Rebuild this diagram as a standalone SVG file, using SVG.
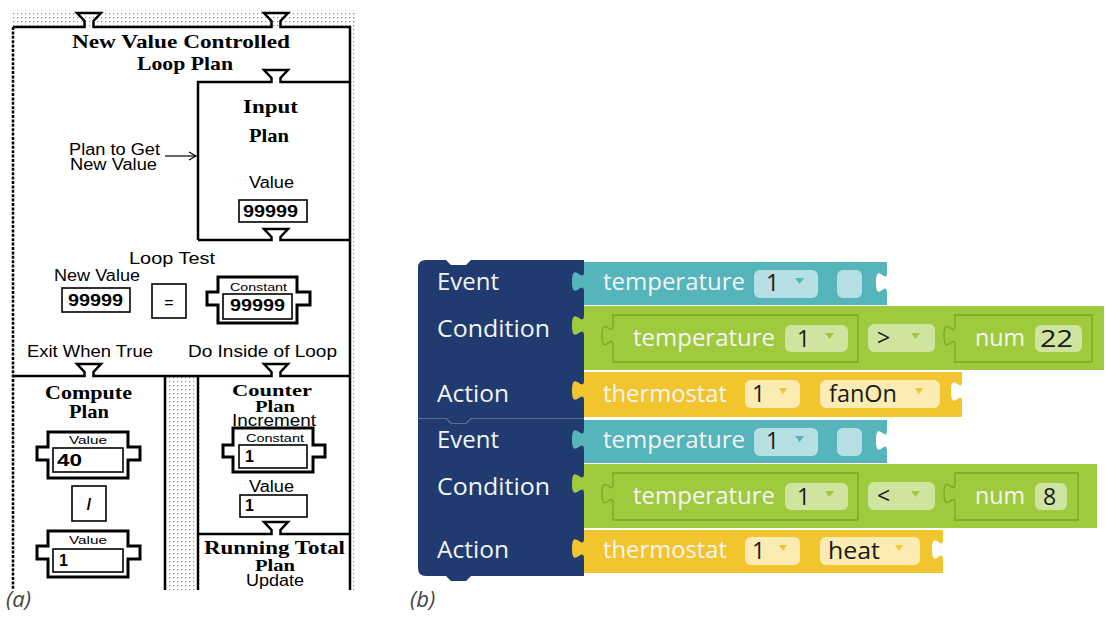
<svg xmlns="http://www.w3.org/2000/svg" width="1106" height="621" viewBox="0 0 1106 621">
  <style>
    .ln { fill: none; stroke: #000; stroke-width: 2.5; stroke-linejoin: miter; }
    .box { fill: #fff; stroke: #000; stroke-width: 1.6; }
    .cart { fill: #fff; stroke: #000; stroke-width: 3; }
    .ttl { font-family: "Liberation Serif", serif; font-weight: bold; font-size: 19px; fill: #000; }
    .ttlS { font-family: "Liberation Serif", serif; font-weight: bold; font-size: 17px; fill: #000; }
    .sans { font-family: "Liberation Sans", sans-serif; font-size: 16px; fill: #000; }
    .small { font-family: "Liberation Sans", sans-serif; font-size: 11.5px; fill: #000; }
    .num { font-family: "Liberation Sans", sans-serif; font-weight: bold; font-size: 16px; fill: #000; }
    .lbl { font-family: "Open Sans", "Noto Sans", sans-serif; font-size: 23px; fill: #f4f4f4; }
    .fld { font-family: "Open Sans", "Noto Sans", sans-serif; font-size: 23px; fill: #1a1a1a; }
    .cap { font-family: "Open Sans", "Noto Sans", sans-serif; font-style: italic; font-size: 22px; fill: #444; }
    .navy { fill: #1f3b70; }
    .teal { fill: #55b5bb; }
    .green { fill: #9fca3d; }
    .yellow { fill: #f2c52f; }
    .tealF { fill: #b5dfe2; }
    .greenF { fill: #cfe59f; }
    .yellowF { fill: #fcebb2; }
    .inner { fill: #9fca3d; stroke: #7ca42b; stroke-width: 1.3; }
  </style>
  <defs>
    <pattern id="dots" width="4" height="4" patternUnits="userSpaceOnUse">
      <rect x="1" y="1" width="1.2" height="1.2" fill="#858585"/>
    </pattern>
    <marker id="openArrow" markerWidth="10" markerHeight="10" refX="8" refY="5" orient="auto" markerUnits="userSpaceOnUse">
      <polyline points="1,1 8,5 1,9" fill="none" stroke="#000" stroke-width="1.2"/>
    </marker>
  </defs>

  <rect width="1106" height="621" fill="#fff"/>

  <!-- ============ (a) plan notation ============ -->
  <g id="plan-background">
    <rect x="10" y="10" width="347" height="17" fill="url(#dots)"/>
    <rect x="351" y="10" width="6" height="580" fill="url(#dots)"/>
    <rect x="166" y="377" width="31" height="213" fill="url(#dots)"/>
  </g>

  <g id="loop-plan">
    <path class="ln" d="M13,27 H84.5 V21 L77,13 H101 L93.5,21 V27 H271.5 V21 L264,13 H288 L280.5,21 V27 H350 V590"/>
    <path d="M13,27 V590" fill="none" stroke="#000" stroke-width="2.5" stroke-dasharray="3 1.4"/>
    <text class="ttl" x="72" y="48" textLength="218" lengthAdjust="spacingAndGlyphs">New Value Controlled</text>
    <text class="ttl" x="137" y="70" textLength="96" lengthAdjust="spacingAndGlyphs">Loop Plan</text>
    <text class="sans" x="69" y="155" textLength="91" lengthAdjust="spacingAndGlyphs">Plan to Get</text>
    <text class="sans" x="70" y="170" textLength="87" lengthAdjust="spacingAndGlyphs">New Value</text>
  </g>

  <g id="input-plan">
    <path class="ln" d="M198,240 V82 H271.5 V78 L264,70 H288 L280.5,78 V82 H350"/>
    <path class="ln" d="M198,240 H271.5 V237 L264,229 H288 L280.5,237 V240 H350"/>
    <text class="ttl" x="243" y="113" textLength="55" lengthAdjust="spacingAndGlyphs">Input</text>
    <text class="ttl" x="249" y="142" textLength="40" lengthAdjust="spacingAndGlyphs">Plan</text>
    <text class="sans" x="249" y="188" textLength="45" lengthAdjust="spacingAndGlyphs">Value</text>
    <rect class="box" x="239" y="200" width="68" height="22"/>
    <text class="num" x="243" y="217" textLength="55" lengthAdjust="spacingAndGlyphs">99999</text>
  </g>

  <g id="loop-test">
    <text class="sans" x="129" y="264" textLength="86" lengthAdjust="spacingAndGlyphs">Loop Test</text>
    <text class="sans" x="54" y="281" textLength="86" lengthAdjust="spacingAndGlyphs">New Value</text>
    <rect class="box" x="62" y="288" width="68" height="24"/>
    <text class="num" x="68" y="306" textLength="55" lengthAdjust="spacingAndGlyphs">99999</text>
    <rect class="box" x="152" y="284" width="34" height="34"/>
    <text class="sans" x="169" y="308" text-anchor="middle" font-size="22">=</text>
    <path class="cart" d="M218,277 H297 V292 H310 V305 H297 V323 H218 V305 H207 V292 H218 Z"/>
    <rect class="box" x="223" y="294" width="69" height="25"/>
    <text class="small" x="230" y="291" textLength="57" lengthAdjust="spacingAndGlyphs">Constant</text>
    <text class="num" x="230" y="311" textLength="55" lengthAdjust="spacingAndGlyphs">99999</text>
    <text class="sans" x="27" y="357" textLength="126" lengthAdjust="spacingAndGlyphs">Exit When True</text>
    <text class="sans" x="188" y="357" textLength="149" lengthAdjust="spacingAndGlyphs">Do Inside of Loop</text>
    <path class="ln" d="M13,376 H84.5 V372 L77,364 H101 L93.5,372 V376 H271.5 V372 L264,364 H288 L280.5,372 V376 H350"/>
  </g>

  <g id="compute-plan">
    <path class="ln" d="M165,376 V590"/>
    <text class="ttl" x="45" y="399" textLength="87" lengthAdjust="spacingAndGlyphs">Compute</text>
    <text class="ttl" x="69" y="418" textLength="40" lengthAdjust="spacingAndGlyphs">Plan</text>
    <path class="cart" d="M48,432 H128 V447 H140 V460 H128 V478 H48 V460 H37 V447 H48 Z"/>
    <rect class="box" x="53" y="448" width="70" height="24"/>
    <text class="small" x="69" y="444" textLength="38" lengthAdjust="spacingAndGlyphs">Value</text>
    <text class="num" x="57" y="466" textLength="25" lengthAdjust="spacingAndGlyphs">40</text>
    <rect class="box" x="72" y="486" width="34" height="35"/>
    <text class="num" x="89" y="510" text-anchor="middle" font-size="19">/</text>
    <path class="cart" d="M48,531 H128 V546 H140 V559 H128 V577 H48 V559 H37 V546 H48 Z"/>
    <rect class="box" x="53" y="549" width="70" height="23"/>
    <text class="small" x="69" y="544" textLength="38" lengthAdjust="spacingAndGlyphs">Value</text>
    <text class="num" x="59" y="566">1</text>
  </g>

  <g id="counter-plan">
    <path class="ln" d="M198,376 V590"/>
    <text class="ttlS" x="232" y="396" textLength="80" lengthAdjust="spacingAndGlyphs">Counter</text>
    <text class="ttlS" x="255" y="412" textLength="40" lengthAdjust="spacingAndGlyphs">Plan</text>
    <text class="sans" x="232" y="426" textLength="84" lengthAdjust="spacingAndGlyphs" font-size="15">Increment</text>
    <path class="cart" d="M233,428 H313 V445 H325 V457 H313 V472 H233 V457 H223 V445 H233 Z"/>
    <rect class="box" x="239" y="445" width="68" height="23"/>
    <text class="small" x="246" y="442" textLength="58" lengthAdjust="spacingAndGlyphs">Constant</text>
    <text class="num" x="245" y="462">1</text>
    <text class="sans" x="249" y="492" textLength="45" lengthAdjust="spacingAndGlyphs">Value</text>
    <rect class="box" x="240" y="495" width="67" height="22"/>
    <text class="num" x="245" y="511">1</text>
  </g>

  <g id="running-total-plan">
    <path class="ln" d="M198,534 H271.5 V530 L264,522 H288 L280.5,530 V534 H350"/>
    <text class="ttl" x="204" y="554" textLength="141" lengthAdjust="spacingAndGlyphs">Running Total</text>
    <text class="ttlS" x="255" y="571" textLength="40" lengthAdjust="spacingAndGlyphs">Plan</text>
    <text class="sans" x="246" y="586" textLength="58" lengthAdjust="spacingAndGlyphs" font-size="15">Update</text>
  </g>

  <g id="connectors">
    <line x1="165" y1="156" x2="196" y2="156" stroke="#000" stroke-width="1.2" marker-end="url(#openArrow)"/>
  </g>

  <text class="cap" x="6" y="607">(a)</text>

  <!-- ============ (b) block-based rules ============ -->
  <g id="rule-2">
    <path class="navy" d="M418,418 H446 L451,423 H466 L471,418 H584 V576 H471 L466,581 H451 L446,576 H426 Q418,576 418,568 Z"/>
  </g>
  <g id="rule-1">
    <path class="navy" d="M418,268 Q418,260 426,260 H446 L451,265 H466 L471,260 H584 V418 H471 L466,423 H451 L446,418 H418 Z"/>
    <path d="M418,418.5 H446 L451,423.5 H466 L471,418.5 H584" fill="none" stroke="#5a6e98" stroke-width="1.2"/>
    <text class="lbl" x="437" y="290" textLength="62" lengthAdjust="spacingAndGlyphs">Event</text>
    <text class="lbl" x="437" y="337" textLength="113" lengthAdjust="spacingAndGlyphs">Condition</text>
    <text class="lbl" x="437" y="402" textLength="72" lengthAdjust="spacingAndGlyphs">Action</text>

    <!-- event: temperature sensor -->
    <g id="rule-1-event">
      <path class="teal" d="M584,262 H887 V272 c0,14 -11,-11 -11,10.5 s11,-3.5 11,10.5 V305 H584 Z"/>
      <path class="teal" d="M584,271 c0,14 -12,-11 -12,10.5 s12,-3.5 12,10.5 Z"/>
      <text class="lbl" x="603" y="290" textLength="142" lengthAdjust="spacingAndGlyphs">temperature</text>
      <rect class="tealF" x="754" y="270" width="64" height="28" rx="6"/>
      <text class="fld" x="766" y="291">1</text>
      <polygon class="teal" points="795,278 804,278 799.5,284"/>
      <rect class="tealF" x="837" y="270" width="25" height="28" rx="6"/>
    </g>

    <!-- condition: temperature > 22 -->
    <g id="rule-1-condition">
      <path class="green" d="M584,306 H1104 V370 H584 Z"/>
      <path class="green" d="M584,315 c0,14 -12,-11 -12,10.5 s12,-3.5 12,10.5 Z"/>
      <path class="inner" d="M613,315 H858 V362 H613 V346 c0,-14 -11,11 -11,-10.5 s11,3.5 11,-10.5 Z"/>
      <text class="lbl" x="633" y="346" textLength="142" lengthAdjust="spacingAndGlyphs">temperature</text>
      <rect class="greenF" x="785" y="325" width="63" height="27" rx="6"/>
      <text class="fld" x="797" y="347">1</text>
      <polygon class="green" points="825,333 834,333 829.5,339"/>
      <rect class="greenF" x="868" y="324" width="67" height="28" rx="6"/>
      <text class="fld" x="877" y="346">&gt;</text>
      <polygon class="green" points="911,333 920,333 915.5,339"/>
      <path class="inner" d="M955,315 H1092 V362 H955 V346 c0,-14 -11,11 -11,-10.5 s11,3.5 11,-10.5 Z"/>
      <text class="lbl" x="975" y="346" textLength="50" lengthAdjust="spacingAndGlyphs">num</text>
      <rect class="greenF" x="1035" y="325" width="47" height="27" rx="6"/>
      <text class="fld" x="1040" y="347" textLength="33" lengthAdjust="spacingAndGlyphs">22</text>
    </g>

    <!-- action: thermostat fanOn -->
    <g id="rule-1-action">
      <path class="yellow" d="M584,372 H962 V381 c0,14 -11,-11 -11,10.5 s11,-3.5 11,10.5 V417 H584 Z"/>
      <path class="yellow" d="M584,380 c0,14 -12,-11 -12,10.5 s12,-3.5 12,10.5 Z"/>
      <text class="lbl" x="603" y="402" textLength="124" lengthAdjust="spacingAndGlyphs">thermostat</text>
      <rect class="yellowF" x="745" y="380" width="55" height="28" rx="6"/>
      <text class="fld" x="752" y="402">1</text>
      <polygon class="yellow" points="779,388 787,388 783,394"/>
      <rect class="yellowF" x="820" y="380" width="120" height="28" rx="6"/>
      <text class="fld" x="829" y="402" textLength="68" lengthAdjust="spacingAndGlyphs">fanOn</text>
      <polygon class="yellow" points="915,388 923,388 919,394"/>
    </g>
  </g>

  <g id="rule-2-rows" transform="translate(0,158)">
    <text class="lbl" x="437" y="290" textLength="62" lengthAdjust="spacingAndGlyphs">Event</text>
    <text class="lbl" x="437" y="337" textLength="113" lengthAdjust="spacingAndGlyphs">Condition</text>
    <text class="lbl" x="437" y="400" textLength="72" lengthAdjust="spacingAndGlyphs">Action</text>

    <!-- event: temperature sensor -->
    <g id="rule-2-event">
      <path class="teal" d="M584,262 H887 V272 c0,14 -11,-11 -11,10.5 s11,-3.5 11,10.5 V305 H584 Z"/>
      <path class="teal" d="M584,271 c0,14 -12,-11 -12,10.5 s12,-3.5 12,10.5 Z"/>
      <text class="lbl" x="603" y="290" textLength="142" lengthAdjust="spacingAndGlyphs">temperature</text>
      <rect class="tealF" x="754" y="270" width="64" height="28" rx="6"/>
      <text class="fld" x="766" y="291">1</text>
      <polygon class="teal" points="795,278 804,278 799.5,284"/>
      <rect class="tealF" x="837" y="270" width="25" height="28" rx="6"/>
    </g>

    <!-- condition: temperature < 8 -->
    <g id="rule-2-condition">
      <path class="green" d="M584,306 H1097 V370 H584 Z"/>
      <path class="green" d="M584,315 c0,14 -12,-11 -12,10.5 s12,-3.5 12,10.5 Z"/>
      <path class="inner" d="M613,315 H858 V362 H613 V346 c0,-14 -11,11 -11,-10.5 s11,3.5 11,-10.5 Z"/>
      <text class="lbl" x="633" y="346" textLength="142" lengthAdjust="spacingAndGlyphs">temperature</text>
      <rect class="greenF" x="785" y="325" width="63" height="27" rx="6"/>
      <text class="fld" x="797" y="347">1</text>
      <polygon class="green" points="825,333 834,333 829.5,339"/>
      <rect class="greenF" x="868" y="324" width="67" height="28" rx="6"/>
      <text class="fld" x="877" y="346">&lt;</text>
      <polygon class="green" points="911,333 920,333 915.5,339"/>
      <path class="inner" d="M955,315 H1078 V362 H955 V346 c0,-14 -11,11 -11,-10.5 s11,3.5 11,-10.5 Z"/>
      <text class="lbl" x="975" y="346" textLength="50" lengthAdjust="spacingAndGlyphs">num</text>
      <rect class="greenF" x="1035" y="325" width="32" height="27" rx="6"/>
      <text class="fld" x="1043" y="347">8</text>
    </g>

    <!-- action: thermostat heat -->
    <g id="rule-2-action">
      <path class="yellow" d="M584,372 H943 V381 c0,14 -11,-11 -11,10.5 s11,-3.5 11,10.5 V415 H584 Z"/>
      <path class="yellow" d="M584,380 c0,14 -12,-11 -12,10.5 s12,-3.5 12,10.5 Z"/>
      <text class="lbl" x="603" y="400" textLength="124" lengthAdjust="spacingAndGlyphs">thermostat</text>
      <rect class="yellowF" x="745" y="379" width="55" height="28" rx="6"/>
      <text class="fld" x="752" y="401">1</text>
      <polygon class="yellow" points="779,387 787,387 783,393"/>
      <rect class="yellowF" x="820" y="379" width="100" height="28" rx="6"/>
      <text class="fld" x="828" y="401" textLength="52" lengthAdjust="spacingAndGlyphs">heat</text>
      <polygon class="yellow" points="895,387 903,387 899,393"/>
    </g>
  </g>

  <text class="cap" x="410" y="607">(b)</text>
</svg>
